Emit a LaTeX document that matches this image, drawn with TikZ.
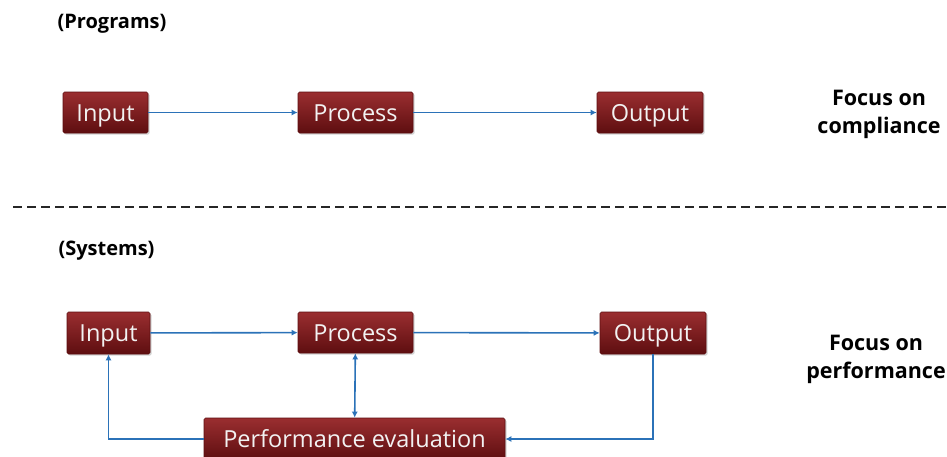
\documentclass[tikz,border=0pt]{standalone}
\usepackage{fontspec}
\setmainfont{Open Sans}
\usetikzlibrary{arrows.meta,shadows}
\definecolor{boxtop}{HTML}{9A2E30}
\definecolor{boxbot}{HTML}{5E0E10}
\definecolor{linkblue}{HTML}{2B72B8}
\tikzset{
  stagebox/.style={rectangle, draw=boxbot, line width=0.6pt, top color=boxtop, bottom color=boxbot,
    text=white!95!black, font=\fontsize{23.5}{23.5}\selectfont, inner sep=0pt, rounded corners=1.5pt,
    text height=17pt, text depth=0pt,
    drop shadow={shadow xshift=1.5pt, shadow yshift=-1.5pt, opacity=0.35}},
  link/.style={draw=linkblue, line width=1.6pt, -{Latex[length=6pt,width=6pt]}},
  heading/.style={font=\bfseries\fontsize{20}{20}\selectfont, text=black},
  focus/.style={font=\bfseries\fontsize{21.5}{28}\selectfont, align=center, text=black},
}
\begin{document}
\begin{tikzpicture}[x=1pt,y=-1pt]
\clip (0,0) rectangle (947,456);
\fill[white] (0,0) rectangle (947,456);

% top section
\node[heading] (lblprog) at (112,24) {(Programs)};
\node[stagebox, minimum width=85, minimum height=41] (in1) at (105.5,112.5) {Input};
\node[stagebox, minimum width=115, minimum height=41] (pr1) at (355.5,112.5) {Process};
\node[stagebox, minimum width=106, minimum height=41] (out1) at (650,112.5) {Output};
\node[focus] (fc1) at (879,114) {Focus on\\compliance};
\draw[link] (in1) -- (pr1);
\draw[link] (pr1) -- (out1);

% divider
\coordinate (dl) at (13,207);
\coordinate (dr) at (947,207);
\draw[line width=2pt, dash pattern=on 9pt off 5pt, black!85] (dl) -- (dr);

% bottom section
\node[heading] (lblsys) at (106.5,251) {(Systems)};
\node[stagebox, minimum width=83, minimum height=42] (in2) at (108.5,333) {Input};
\node[stagebox, minimum width=115, minimum height=41] (pr2) at (355.5,332.5) {Process};
\node[stagebox, minimum width=106, minimum height=42] (out2) at (653,333) {Output};
\node[stagebox, minimum width=301, minimum height=42] (perf) at (354.5,439) {Performance evaluation};
\node[focus] (fc2) at (876,359) {Focus on\\performance};
\draw[link] (in2) -- (pr2);
\draw[link] (pr2) -- (out2);
\draw[link, {Latex[length=6pt,width=6pt]}-{Latex[length=6pt,width=6pt]}] (pr2) -- (perf);
\draw[link] (out2.south) |- (perf.east);
\draw[link] (perf.west) -| (in2.south);
\end{tikzpicture}
\end{document}
